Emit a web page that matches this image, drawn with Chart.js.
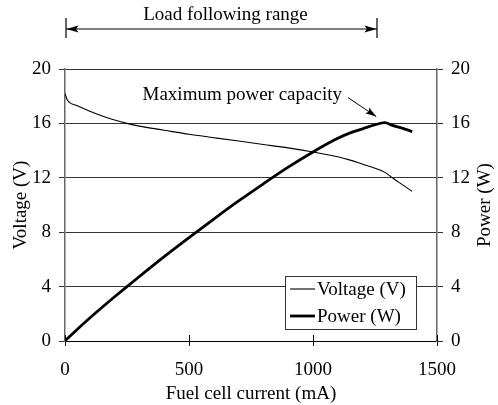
<!DOCTYPE html>
<html>
<head>
<meta charset="utf-8">
<script src="https://cdn.jsdelivr.net/npm/chart.js@4"></script>
<style>
  html, body { margin: 0; padding: 0; background: #fff; }
  #wrap { width: 498px; height: 405px; }
</style>
</head>
<body>
<div id="wrap"><canvas id="c" width="498" height="405"></canvas></div>
<script>
// ── data ──────────────────────────────────────────────
const currentMA = [0, 10, 50, 100, 150, 200, 250, 300, 400, 500, 600, 700,
                   800, 900, 1000, 1100, 1150, 1200, 1250, 1290, 1320, 1360, 1400];
const voltageV  = [18.2, 17.7, 17.3, 16.9, 16.55, 16.25, 16.0, 15.8, 15.5, 15.2, 14.95, 14.7,
                   14.45, 14.2, 13.9, 13.55, 13.3, 13.0, 12.7, 12.4, 12.0, 11.5, 11.0];
const powerW    = [0, 0.18, 0.87, 1.69, 2.48, 3.25, 4.0, 4.74, 6.2, 7.6, 8.97, 10.3,
                   11.56, 12.78, 13.9, 14.9, 15.3, 15.6, 15.9, 16.05, 15.85, 15.65, 15.4];
const xTicks = [0, 500, 1000, 1500];
const yTicks = [0, 4, 8, 12, 16, 20];

// annotations (data coordinates)
const loadRange = [0, 1258];                 // mA
const peakArrowFrom = [1141, 17.9];          // mA, V
const peakArrowTo   = [1255, 16.5];

const FONT = "'Liberation Serif', 'Times New Roman', serif";
const FS = 19;

function pts(ys) { return currentMA.map((x, i) => ({ x, y: ys[i] })); }

function arrowHead(ctx, x0, y0, x1, y1, len, half) {
  const a = Math.atan2(y1 - y0, x1 - x0);
  ctx.beginPath();
  ctx.moveTo(x1, y1);
  ctx.lineTo(x1 - len * Math.cos(a) + half * Math.sin(a), y1 - len * Math.sin(a) - half * Math.cos(a));
  ctx.lineTo(x1 - len * Math.cos(a) * 0.8, y1 - len * Math.sin(a) * 0.8);
  ctx.lineTo(x1 - len * Math.cos(a) - half * Math.sin(a), y1 - len * Math.sin(a) + half * Math.cos(a));
  ctx.closePath();
  ctx.fill();
}

// ── extra drawing: ticks inside, legend, annotations, right title ──
const extras = {
  id: "extras",
  afterDraw(chart) {
    const { ctx, chartArea: ca, scales: { x, y } } = chart;
    ctx.save();
    ctx.strokeStyle = "#000";
    ctx.fillStyle = "#000";

    // inner x tick marks
    ctx.lineWidth = 1;
    xTicks.forEach(v => {
      const px = Math.round(x.getPixelForValue(v)) + 0.5;
      ctx.beginPath();
      ctx.moveTo(px, ca.bottom);
      ctx.lineTo(px, ca.bottom - 6);
      ctx.stroke();
    });

    // legend
    const lx = 285, ly = 276, lw = 131, lh = 53;
    ctx.fillStyle = "#fff";
    ctx.fillRect(lx, ly, lw, lh);
    ctx.strokeStyle = "#333";
    ctx.lineWidth = 1;
    ctx.strokeRect(lx + 0.5, ly + 0.5, lw, lh);
    ctx.strokeStyle = "#000";
    ctx.fillStyle = "#000";
    ctx.font = `${FS}px ${FONT}`;
    ctx.textBaseline = "middle";
    ctx.textAlign = "left";
    [["Voltage (V)", 1.1, 289], ["Power (W)", 2.8, 316]].forEach(([t, w, yy]) => {
      ctx.lineWidth = w;
      ctx.beginPath();
      ctx.moveTo(290, yy);
      ctx.lineTo(315, yy);
      ctx.stroke();
      ctx.fillText(t, 317, yy + 1);
    });

    // load following range
    const ax0 = x.getPixelForValue(loadRange[0]) + 1;
    const ax1 = x.getPixelForValue(loadRange[1]);
    const ay = 29;
    ctx.lineWidth = 1.2;
    ctx.beginPath();
    ctx.moveTo(ax0, ay); ctx.lineTo(ax1, ay);
    ctx.moveTo(ax0, 18); ctx.lineTo(ax0, 38);
    ctx.moveTo(ax1, 18); ctx.lineTo(ax1, 38);
    ctx.stroke();
    arrowHead(ctx, ax1, ay, ax0 + 0.5, ay, 12, 3.5);
    arrowHead(ctx, ax0, ay, ax1 - 0.5, ay, 12, 3.5);
    ctx.textAlign = "center";
    ctx.textBaseline = "middle";
    ctx.fillText("Load following range", (ax0 + ax1) / 2 + 4, 15);

    // maximum power capacity
    const fx = x.getPixelForValue(peakArrowFrom[0]), fy = y.getPixelForValue(peakArrowFrom[1]);
    const tx = x.getPixelForValue(peakArrowTo[0]),   ty = y.getPixelForValue(peakArrowTo[1]);
    ctx.lineWidth = 1;
    ctx.beginPath();
    ctx.moveTo(fx, fy); ctx.lineTo(tx, ty);
    ctx.stroke();
    arrowHead(ctx, fx, fy, tx, ty, 11, 3.5);
    ctx.textAlign = "right";
    ctx.fillText("Maximum power capacity", fx - 6, fy - 3);

    // right axis title (reads bottom to top)
    ctx.translate(485, (ca.top + ca.bottom) / 2);
    ctx.rotate(-Math.PI / 2);
    ctx.textAlign = "center";
    ctx.fillText("Power (W)", 0, 0);
    ctx.restore();
  },
};

const tickFont = { family: FONT, size: FS };
const plain = v => String(v);

new Chart(document.getElementById("c"), {
  type: "line",
  data: {
    datasets: [
      { label: "Voltage (V)", data: pts(voltageV), yAxisID: "y",
        borderColor: "#000", borderWidth: 1.1, pointRadius: 0, cubicInterpolationMode: "monotone", fill: false },
      { label: "Power (W)", data: pts(powerW), yAxisID: "y1",
        borderColor: "#000", borderWidth: 2.8, pointRadius: 0, cubicInterpolationMode: "monotone", fill: false },
    ],
  },
  options: {
    responsive: false,
    animation: false,
    layout: { padding: { top: 69, right: 0, left: 0, bottom: 0 } },
    plugins: { legend: { display: false }, tooltip: { enabled: false } },
    scales: {
      x: {
        type: "linear", min: 0, max: 1500,
        afterBuildTicks: s => { s.ticks = xTicks.map(v => ({ value: v })); },
        afterFit: s => { s.height = 64; },
        ticks: { font: tickFont, color: "#000", padding: 13, maxRotation: 0, callback: plain },
        grid: { drawOnChartArea: false, tickLength: 5, color: "#000" },
        border: { color: "#000", width: 1 },
        title: { display: true, text: "Fuel cell current (mA)", font: tickFont, color: "#000", padding: { top: 0, bottom: 0 } },
      },
      y: {
        position: "left", min: 0, max: 20,
        afterBuildTicks: s => { s.ticks = yTicks.map(v => ({ value: v })); },
        afterFit: s => { s.width = 65; },
        ticks: { font: tickFont, color: "#000", padding: 8, callback: plain },
        grid: { color: "#333", lineWidth: 1, tickLength: 6 },
        border: { color: "#666", width: 1.5 },
        title: { display: true, text: "Voltage (V)", font: tickFont, color: "#000", padding: { top: 10, bottom: 0 } },
      },
      y1: {
        position: "right", min: 0, max: 20,
        afterBuildTicks: s => { s.ticks = yTicks.map(v => ({ value: v })); },
        afterFit: s => { s.width = 61; },
        ticks: { font: tickFont, color: "#000", padding: 8, callback: plain },
        grid: { drawOnChartArea: false, color: "#333", tickLength: 6 },
        border: { color: "#666", width: 1.5 },
      },
    },
  },
  plugins: [extras],
});
</script>
</body>
</html>
